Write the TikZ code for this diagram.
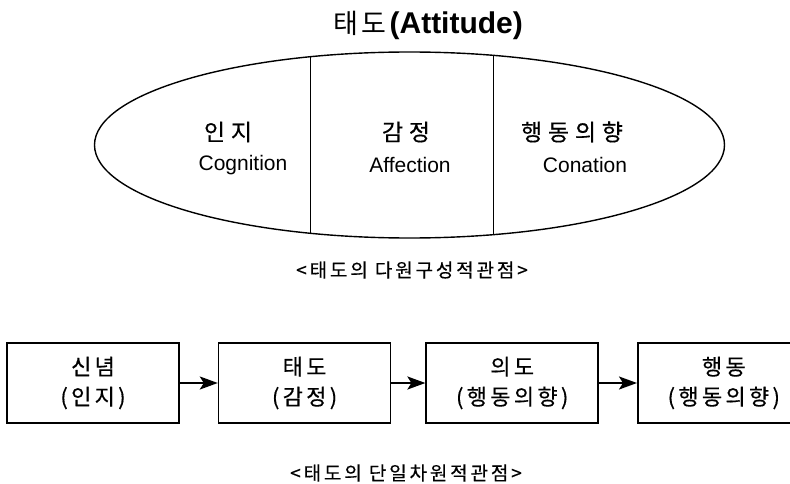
\documentclass[tikz,border=0pt]{standalone}
\usepackage{fontspec}
\setmainfont{Liberation Sans}
\newfontfamily\kr[LetterSpace=15,FakeBold=0.4]{Noto Sans CJK KR}
\newfontfamily\krw[LetterSpace=25,FakeBold=0.4]{Noto Sans CJK KR}
\newfontfamily\krt[LetterSpace=15]{Noto Sans CJK KR}
\usetikzlibrary{arrows.meta,positioning,shapes.geometric}

\begin{document}
\begin{tikzpicture}[x=1pt,y=-1pt,>={Stealth[length=18pt,width=13pt,inset=4pt]},node distance=38pt,
  box/.style={draw,line width=1.6pt,minimum width=172pt,minimum height=80pt,align=center,font=\kr\fontsize{22}{30}\selectfont},
  part/.style={font=\krw\fontsize{23}{27}\selectfont},
  eng/.style={font=\fontsize{21}{25}\selectfont},
  caption/.style={font=\kr\fontsize{19}{23}\selectfont}]
\useasboundingbox (0,0) rectangle (790,484);
% multi-component view
\node (title) at (428,25) {{\krt\fontsize{27}{31}\selectfont 태도} {\bfseries\fontsize{30}{34}\selectfont (Attitude)}};
\node[ellipse,draw,line width=1.4pt,minimum width=630pt,minimum height=186pt,inner sep=0pt] (att) at (409.5,145) {};
\begin{scope}
\clip (att.center) ellipse [x radius=315,y radius=93];
\draw[line width=0.9pt] (310,40) -- (310,250) (493,40) -- (493,250);
\end{scope}
\node[part] (cog) at (228,132) {인지};
\node[eng] (cogE) at (243,165) {Cognition};
\node[part] (aff) at (406,132) {감정};
\node[eng] (affE) at (410,165) {Affection};
\node[part] (con) at (572,132) {행동의향};
\node[eng] (conE) at (585,165) {Conation};
\node[caption] (cap1) at (412,270) {<태도의 다원구성적관점>};
% one-dimensional view
\node[box] (b1) at (93,383) {신념\\(인지)};
\node[box] [right=38pt of b1] (b2) {태도\\(감정)};
\node[box] [right=34pt of b2] (b3) {의도\\(행동의향)};
\node[box] [right=38pt of b3] (b4) {행동\\(행동의향)};
\path[->,line width=2pt] (b1) edge (b2)
(b2) edge (b3)
(b3) edge (b4);
\node[caption] (cap2) at (406,473) {<태도의 단일차원적관점>};
\end{tikzpicture}
\end{document}
